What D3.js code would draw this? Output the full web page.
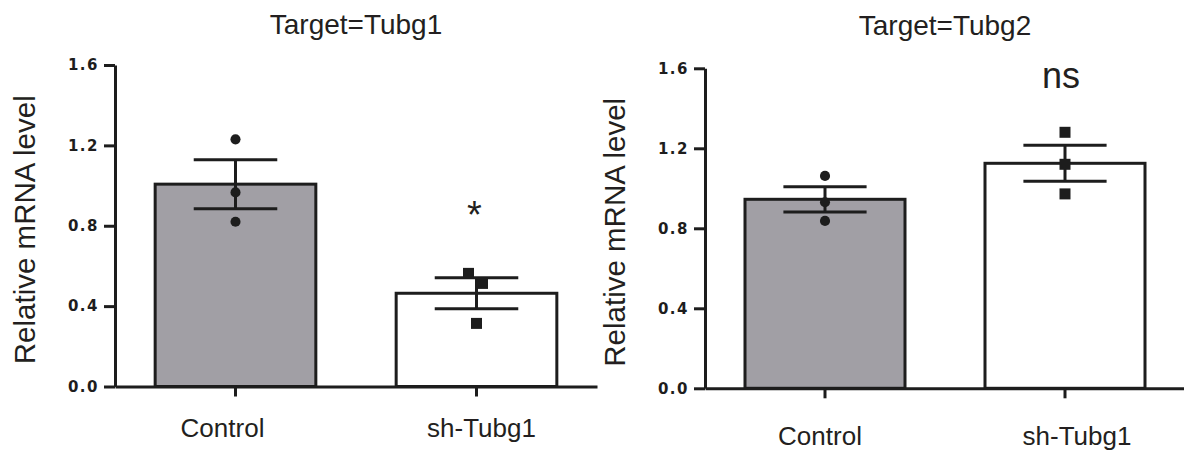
<!DOCTYPE html>
<html>
<head>
<meta charset="utf-8">
<script src="https://cdn.jsdelivr.net/npm/d3@7"></script>
<style>
  html, body { margin: 0; padding: 0; background: #fff; }
  svg { display: block; }
</style>
</head>
<body>
<script>
// ---------------------------------------------------------------------------
// Data
// ---------------------------------------------------------------------------

const categories = ['Control', 'sh-Tubg1'];
const yTicks = [0, 0.4, 0.8, 1.2, 1.6];

// Target = Tubg1
const tubg1Mean   = [1.007, 0.464];
const tubg1Sem    = [0.122, 0.077];
const tubg1Points = [[1.23, 0.966, 0.82], [0.563, 0.513, 0.314]];
const tubg1Annot  = ['', '*'];
const tubg1AnnotY = [null, 0.9];

// Target = Tubg2
const tubg2Mean   = [0.945, 1.125];
const tubg2Sem    = [0.063, 0.09];
const tubg2Points = [[1.062, 0.93, 0.837], [1.28, 1.12, 0.972]];
const tubg2Annot  = ['', 'ns'];
const tubg2AnnotY = [null, 1.5];

// ---------------------------------------------------------------------------
// Styling
// ---------------------------------------------------------------------------

const FONT = '"Liberation Sans", Arial, Helvetica, sans-serif';
const TICK_FONT = '"DejaVu Sans", Verdana, sans-serif';
const INK = '#1d1d1d';
const TEXT = '#231f20';
const BAR_FILLS = ['#a19fa5', '#ffffff'];
const LW = 3;

const svg = d3.select('body').append('svg')
  .attr('width', 1184)
  .attr('height', 450);

// ---------------------------------------------------------------------------
// One panel: bar + SEM + individual points
// ---------------------------------------------------------------------------

function drawPanel(cfg) {
  const x = d3.scaleBand()
    .domain(categories)
    .range(cfg.xRange)
    .paddingInner(1 / 3)
    .paddingOuter(1 / 6);

  const y = d3.scaleLinear()
    .domain([0, 1.6])
    .range(cfg.yRange);

  const g = svg.append('g');
  const rows = categories.map((c, i) => ({
    cat: c, i, mean: cfg.mean[i], sem: cfg.sem[i], pts: cfg.points[i],
    annot: cfg.annot[i], annotY: cfg.annotY[i]
  }));

  // title
  g.append('text')
    .attr('x', (cfg.xRange[0] + cfg.xRange[1]) / 2)
    .attr('y', cfg.titleY)
    .attr('text-anchor', 'middle')
    .attr('font-family', FONT).attr('font-size', 28).attr('fill', TEXT)
    .text(cfg.title);

  // y label
  g.append('text')
    .attr('transform', `translate(${cfg.yLabelX},${(cfg.yRange[0] + cfg.yRange[1]) / 2 + 4}) rotate(-90)`)
    .attr('text-anchor', 'middle')
    .attr('font-family', FONT).attr('font-size', 29.5).attr('fill', TEXT)
    .text('Relative mRNA level');

  // bars
  g.selectAll('rect.bar').data(rows).join('rect')
    .attr('class', 'bar')
    .attr('x', d => x(d.cat))
    .attr('width', x.bandwidth())
    .attr('y', d => y(d.mean))
    .attr('height', d => y(0) - y(d.mean))
    .attr('fill', d => BAR_FILLS[d.i])
    .attr('stroke', INK).attr('stroke-width', LW);

  // axes (drawn over bar bottoms)
  const yAx = g.append('g')
    .attr('transform', `translate(${cfg.xRange[0]},0)`)
    .call(d3.axisLeft(y).tickValues(yTicks).tickFormat(d3.format('.1f'))
      .tickSize(11).tickPadding(5).tickSizeOuter(0));
  yAx.selectAll('text')
    .style('font-family', TICK_FONT).style('font-size', '15px').style('font-weight', '700')
    .style('letter-spacing', '1.5px').attr('fill', INK);

  const xAx = g.append('g')
    .attr('transform', `translate(0,${y(0)})`)
    .call(d3.axisBottom(x).tickSize(10).tickSizeOuter(0));
  xAx.selectAll('text')
    .attr('y', cfg.xLabelDy).attr('dy', 0)
    .attr('dx', (d, i) => cfg.xLabelShift[i])
    .style('font-family', FONT).style('font-size', '26px').attr('fill', TEXT);

  [yAx, xAx].forEach(ax => {
    ax.select('.domain').attr('stroke', INK).attr('stroke-width', LW);
    ax.selectAll('.tick line').attr('stroke', INK).attr('stroke-width', LW);
  });

  // error bars (mean ± SEM)
  const cap = x.bandwidth() * 0.26;
  const eb = g.selectAll('g.err').data(rows).join('g').attr('class', 'err')
    .attr('stroke', INK).attr('stroke-width', LW);
  eb.append('line')
    .attr('x1', d => x(d.cat) + x.bandwidth() / 2)
    .attr('x2', d => x(d.cat) + x.bandwidth() / 2)
    .attr('y1', d => y(d.mean + d.sem))
    .attr('y2', d => y(d.mean - d.sem));
  eb.selectAll('line.cap').data(d => [d.mean + d.sem, d.mean - d.sem].map(v => ({ v, d })))
    .join('line').attr('class', 'cap')
    .attr('x1', o => x(o.d.cat) + x.bandwidth() / 2 - cap)
    .attr('x2', o => x(o.d.cat) + x.bandwidth() / 2 + cap)
    .attr('y1', o => y(o.v))
    .attr('y2', o => y(o.v));

  // individual points: circles for Control, squares for sh-Tubg1
  rows.forEach(d => {
    const cx = x(d.cat) + x.bandwidth() / 2;
    const jit = cfg.jitter[d.i];
    const sym = d.i === 0 ? d3.symbolCircle : d3.symbolSquare;
    const size = d.i === 0 ? 80 : 121;
    g.selectAll(null).data(d.pts).join('path')
      .attr('transform', (v, k) => `translate(${cx + jit[k]},${y(v)})`)
      .attr('d', d3.symbol().type(sym).size(size))
      .attr('fill', INK);
  });

  // significance annotations
  g.selectAll('text.annot').data(rows.filter(d => d.annot)).join('text')
    .attr('class', 'annot')
    .attr('x', d => x(d.cat) + x.bandwidth() / 2 + (d.annot === '*' ? -2 : -4))
    .attr('y', d => y(d.annotY))
    .attr('dy', d => d.annot === '*' ? '0.6em' : 0)
    .attr('text-anchor', 'middle')
    .attr('font-family', FONT)
    .attr('font-size', d => d.annot === '*' ? 38 : 36)
    .attr('fill', TEXT)
    .text(d => d.annot);
}

drawPanel({
  title: 'Target=Tubg1',
  xRange: [115, 597], yRange: [386.5, 65],
  titleY: 34, yLabelX: 35, xLabelDy: 50.5, xLabelShift: [-13, 5],
  mean: tubg1Mean, sem: tubg1Sem, points: tubg1Points,
  annot: tubg1Annot, annotY: tubg1AnnotY,
  jitter: [[0, 0, 0], [-8, 6, 0]]
});

drawPanel({
  title: 'Target=Tubg2',
  xRange: [705, 1185], yRange: [388.3, 68.3],
  titleY: 35, yLabelX: 625, xLabelDy: 56.5, xLabelShift: [-5, 12],
  mean: tubg2Mean, sem: tubg2Sem, points: tubg2Points,
  annot: tubg2Annot, annotY: tubg2AnnotY,
  jitter: [[0, 0, 0], [0, 0, 0]]
});
</script>
</body>
</html>
